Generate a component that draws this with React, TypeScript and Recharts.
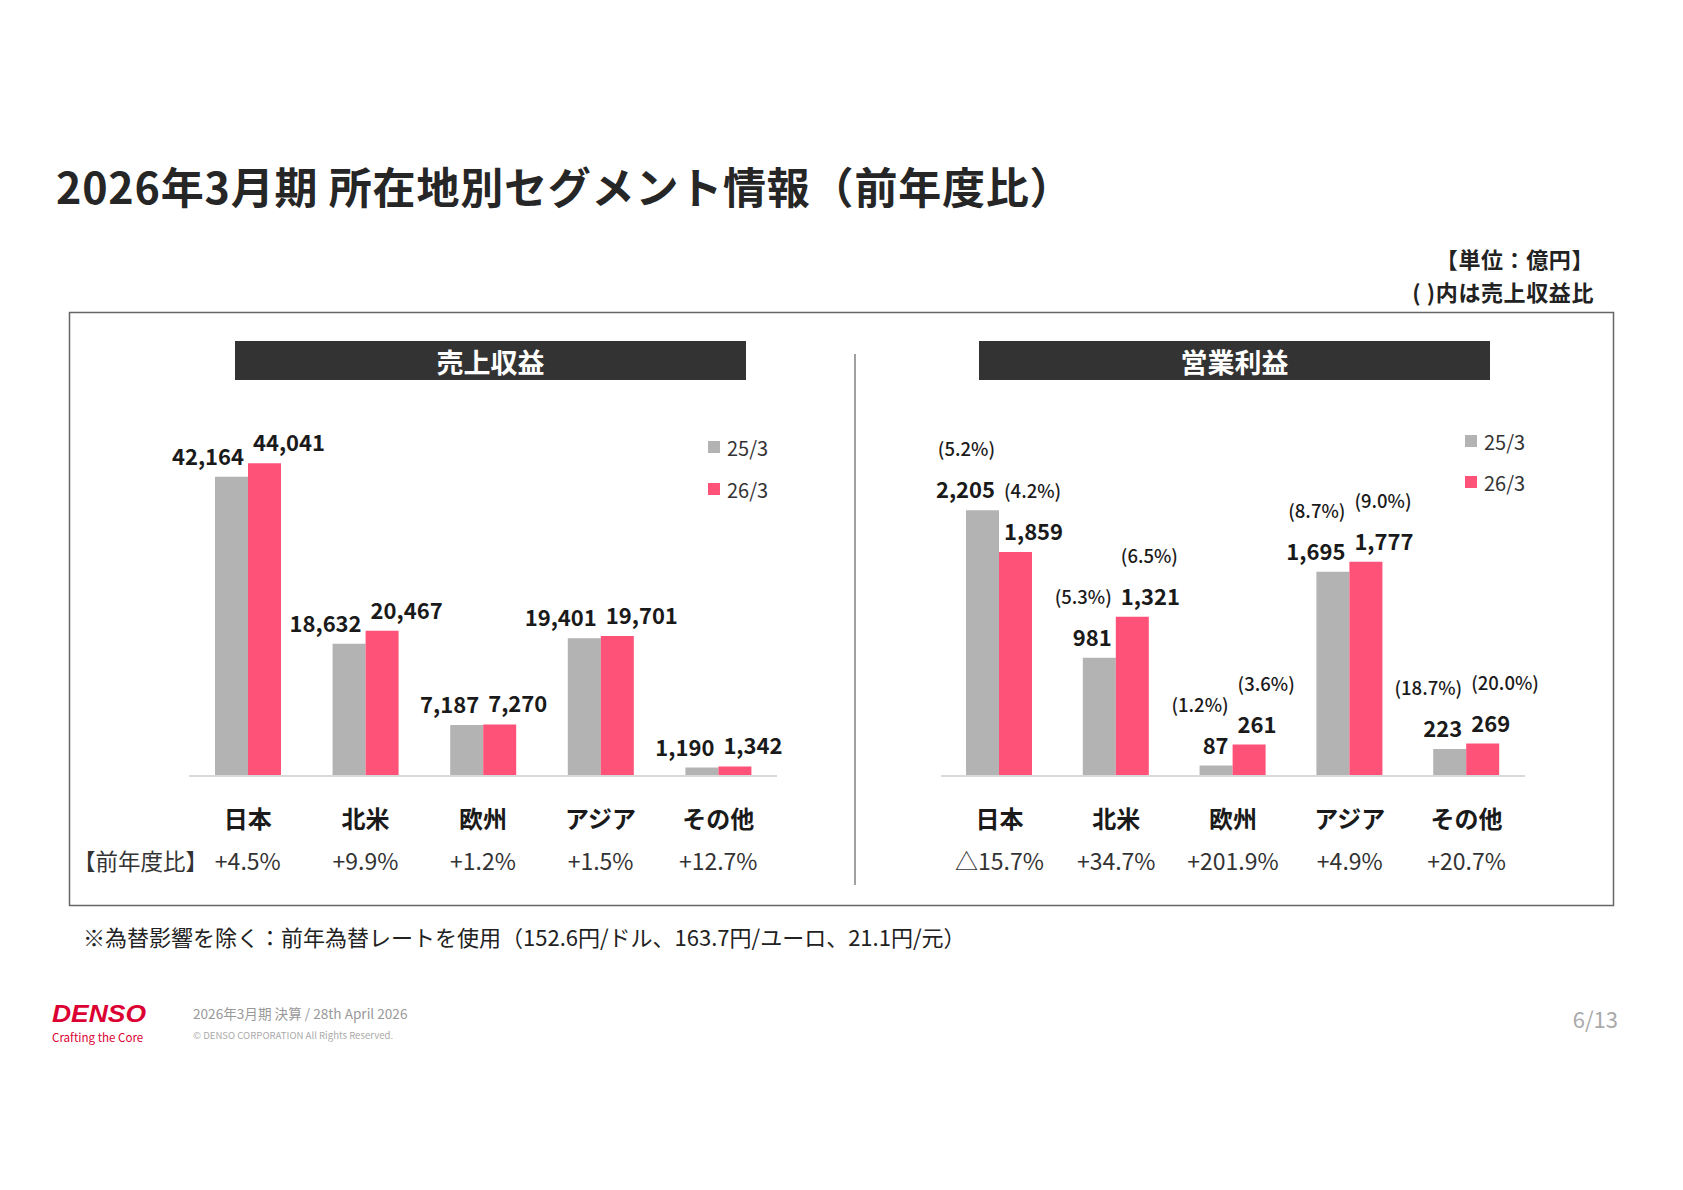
import { BarChart, Bar, XAxis, YAxis, LabelList } from "recharts";

// 所在地別セグメント（単位：億円）
const regions = ["日本", "北米", "欧州", "アジア", "その他"];
const sales25 = [42164, 18632, 7187, 19401, 1190];
const sales26 = [44041, 20467, 7270, 19701, 1342];
const salesYoY = ["+4.5%", "+9.9%", "+1.2%", "+1.5%", "+12.7%"];
const profit25 = [2205, 981, 87, 1695, 223];
const profit26 = [1859, 1321, 261, 1777, 269];
const margin25 = ["(5.2%)", "(5.3%)", "(1.2%)", "(8.7%)", "(18.7%)"];
const margin26 = ["(4.2%)", "(6.5%)", "(3.6%)", "(9.0%)", "(20.0%)"];
const profitYoY = ["△15.7%", "+34.7%", "+201.9%", "+4.9%", "+20.7%"];
const seriesNames = ["25/3", "26/3"];

const GRAY = "#b3b3b3";
const PINK = "#ff5279";
const FONT = "'Noto Sans CJK JP', 'Noto Sans', sans-serif";

const salesData = regions.map((r, i) => ({ name: r, prev: sales25[i], curr: sales26[i] }));
const profitData = regions.map((r, i) => ({ name: r, prev: profit25[i], curr: profit26[i] }));

const fmt = (v: number) => v.toLocaleString("en-US");

// 値ラベル（前年は左寄せ・今年は右寄せ）
const makeLabel = (side: "prev" | "curr", values: number[], pcts?: string[], pad = 4) => (p: any) => {
  const i = p.index != null ? p.index : values.indexOf(p.value);
  const tx = side === "prev" ? p.x + p.width - pad : p.x + pad;
  const anchor = side === "prev" ? "end" : "start";
  const base = p.y - 22;
  return (
    <g>
      <text x={tx} y={base} textAnchor={anchor} dominantBaseline="central" fontSize={22} fontWeight={700} fill="#1a1a1a" fontFamily={FONT}>
        {fmt(values[i])}
      </text>
      {pcts && (
        <text x={tx} y={base - 40} textAnchor={anchor} dominantBaseline="central" fontSize={18.5} fontWeight={500} fill="#1a1a1a" fontFamily={FONT}>
          {pcts[i]}
        </text>
      )}
    </g>
  );
};

const makeTick = (yoy: string[]) => (p: any) => {
  const i = regions.indexOf(p.payload.value);
  return (
    <g>
      <text x={p.x} y={p.y + 41} textAnchor="middle" dominantBaseline="central" fontSize={24} fontWeight={700} fill="#1a1a1a" fontFamily={FONT}>
        {p.payload.value}
      </text>
      <text x={p.x} y={p.y + 84} textAnchor="middle" dominantBaseline="central" fontSize={23} fill="#333" fontFamily={FONT}>
        {yoy[i]}
      </text>
    </g>
  );
};

function SegmentChart({ data, max, prev, curr, yoy, pcts25, pcts26, left, mr, ml, pad }: any) {
  return (
    <div style={{ position: "absolute", left, top: 391 }}>
      <BarChart width={688} height={500} data={data} margin={{ top: 30, right: mr, left: ml, bottom: 25 }} barGap={0} barSize={33}>
        <XAxis
          dataKey="name"
          height={90}
          tickLine={false}
          tickSize={0}
          tickMargin={0}
          axisLine={{ stroke: "#d9d9d9", strokeWidth: 2 }}
          tick={makeTick(yoy)}
          interval={0}
        />
        <YAxis hide domain={[0, max]} />
        <Bar dataKey="prev" fill={GRAY} isAnimationActive={false}>
          <LabelList dataKey="prev" content={makeLabel("prev", prev, pcts25, pad)} />
        </Bar>
        <Bar dataKey="curr" fill={PINK} isAnimationActive={false}>
          <LabelList dataKey="curr" content={makeLabel("curr", curr, pcts26, pad + 1)} />
        </Bar>
      </BarChart>
    </div>
  );
}

function Legend({ x, y1, y2 }: { x: number; y1: number; y2: number }) {
  return (
    <g fontFamily={FONT} fontSize={20} fill="#333">
      <rect x={x} y={y1 - 6} width={12} height={12} fill={GRAY} />
      <text x={x + 19} y={y1} dominantBaseline="central">{seriesNames[0]}</text>
      <rect x={x} y={y2 - 6} width={12} height={12} fill={PINK} />
      <text x={x + 19} y={y2} dominantBaseline="central">{seriesNames[1]}</text>
    </g>
  );
}

export default function App() {
  return (
    <div style={{ position: "absolute", left: 0, top: 0, width: 1683, height: 1190, background: "#fff", fontFamily: FONT }}>
      <svg width={1683} height={1190} style={{ position: "absolute", left: 0, top: 0 }} fontFamily={FONT}>
        <text x={56} y={185} dominantBaseline="central" fontSize={43} fontWeight={700} fill="#262626" letterSpacing={0.8}>
          2026年3月期 所在地別セグメント情報（前年度比）
        </text>
        <text x={1594} y={258} textAnchor="end" dominantBaseline="central" fontSize={22} fontWeight={700} fill="#222" letterSpacing={0.6}>
          【単位：億円】
        </text>
        <text x={1594} y={291} textAnchor="end" dominantBaseline="central" fontSize={22} fontWeight={700} fill="#222" letterSpacing={0.6}>
          ( )内は売上収益比
        </text>
        <rect x={69.5} y={312.5} width={1544} height={593} fill="none" stroke="#666" strokeWidth={1.5} />
        <line x1={855} x2={855} y1={354} y2={885} stroke="#808080" strokeWidth={1.5} />
        <rect x={235} y={341} width={511} height={39} fill="#333" />
        <text x={490.5} y={361} textAnchor="middle" dominantBaseline="central" fontSize={27} fontWeight={700} fill="#fff">
          売上収益
        </text>
        <rect x={979} y={341} width={511} height={39} fill="#333" />
        <text x={1234.5} y={361} textAnchor="middle" dominantBaseline="central" fontSize={27} fontWeight={700} fill="#fff">
          営業利益
        </text>
        <Legend x={708} y1={447} y2={489} />
        <Legend x={1465} y1={441} y2={482} />
        <text x={73} y={860} dominantBaseline="central" fontSize={22.5} fill="#333">
          【前年度比】
        </text>
        <text x={83} y={936} dominantBaseline="central" fontSize={22} fill="#222">
          ※為替影響を除く：前年為替レートを使用（152.6円/ドル、163.7円/ユーロ、21.1円/元）
        </text>
        <text x={52} y={1013} dominantBaseline="central" fontSize={24} fontWeight={700} fontStyle="italic" fill="#dc0032" fontFamily="'Liberation Sans', sans-serif" textLength={94} lengthAdjust="spacingAndGlyphs">
          DENSO
        </text>
        <text x={52} y={1037} dominantBaseline="central" fontSize={11.6} fill="#dc0032">
          Crafting the Core
        </text>
        <text x={193} y={1013} dominantBaseline="central" fontSize={13.6} fill="#999">
          2026年3月期 決算 / 28th April 2026
        </text>
        <text x={193} y={1035} dominantBaseline="central" fontSize={9.6} fill="#aaa">
          © DENSO CORPORATION All Rights Reserved.
        </text>
        <text x={1618} y={1018} textAnchor="end" dominantBaseline="central" fontSize={22} fill="#aaa">
          6/13
        </text>
      </svg>
      <SegmentChart data={salesData} max={50000} prev={sales25} curr={sales26} yoy={salesYoY} left={139} ml={50} mr={50} pad={4} />
      <SegmentChart data={profitData} max={2945} prev={profit25} curr={profit26} yoy={profitYoY} pcts25={margin25} pcts26={margin26} left={890} ml={51} mr={53} pad={4} />
    </div>
  );
}
